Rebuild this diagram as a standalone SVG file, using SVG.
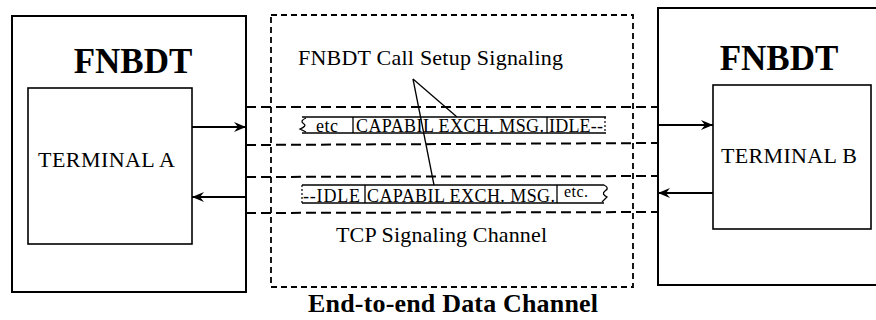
<svg xmlns="http://www.w3.org/2000/svg" width="876" height="320" viewBox="0 0 876 320">
<style>
.box{fill:none;stroke:#000;stroke-width:2}
.inner{fill:none;stroke:#000;stroke-width:1.6}
.dash{fill:none;stroke:#000;stroke-width:2;stroke-dasharray:10 5}
.dbox{fill:none;stroke:#000;stroke-width:1.8;stroke-dasharray:6 4}
.ln{fill:none;stroke:#000;stroke-width:1.3}
.arr{fill:none;stroke:#000;stroke-width:2;marker-end:url(#ah)}
.title{font-family:"Liberation Serif",serif;font-weight:bold;font-size:35px;fill:#000}
.lbl{font-family:"Liberation Serif",serif;font-size:22px;fill:#000}
.pk{font-family:"Liberation Serif",serif;font-size:18px;fill:#000}
.dot{fill:none;stroke:#000;stroke-width:1.2;stroke-dasharray:2 2}
</style>
<defs>
<marker id="ah" viewBox="0 0 12 10" refX="12" refY="5" markerWidth="12" markerHeight="10" markerUnits="userSpaceOnUse" orient="auto">
<path d="M0,0 L12,5 L0,10 L4,5 z" fill="#000"/>
</marker>
</defs>
<g id="channel">
<rect class="dbox" x="271" y="15" width="362" height="272"/>
<text class="lbl" x="298" y="65" textLength="265">FNBDT Call Setup Signaling</text>
<text class="lbl" x="336" y="242" textLength="211">TCP Signaling Channel</text>
<text class="title" x="453" y="312" text-anchor="middle" font-size="26" style="font-size:26px" textLength="290">End-to-end Data Channel</text>
</g>
<g id="fnbdt-a">
<rect class="box" x="12" y="16" width="234" height="276"/>
<text class="title" x="133" y="73" text-anchor="middle">FNBDT</text>
</g>
<g id="terminal-a">
<rect class="inner" x="28" y="88" width="164" height="156"/>
<text class="lbl" x="38" y="167" textLength="137">TERMINAL A</text>
</g>
<g id="fnbdt-b">
<path class="box" d="M880,8 L658,8 L658,285 L880,285"/>
<text class="title" x="779" y="70" text-anchor="middle">FNBDT</text>
</g>
<g id="terminal-b">
<rect class="inner" x="713" y="85" width="158" height="144"/>
<text class="lbl" x="721" y="163" textLength="136">TERMINAL B</text>
</g>
<g id="packet-top">
<line class="ln" x1="302" y1="117" x2="606" y2="117"/>
<line class="ln" x1="302" y1="133" x2="606" y2="133"/>
<path class="ln" d="M306,118 Q299,121 304,124 Q307,126 300,129 L306,132"/>
<line class="ln" x1="353" y1="117" x2="353" y2="133"/>
<line class="ln" x1="547" y1="117" x2="547" y2="133"/>
<line class="dot" x1="605" y1="117" x2="605" y2="133"/>
<text class="pk" x="316" y="132" textLength="22">etc</text>
<text class="pk" x="356" y="132" textLength="188">CAPABIL EXCH. MSG.</text>
<text class="pk" x="549" y="132" textLength="54">IDLE--</text>
</g>
<g id="packet-bottom">
<line class="ln" x1="302" y1="185" x2="604" y2="185"/>
<line class="ln" x1="302" y1="203" x2="604" y2="203"/>
<line class="dot" x1="302" y1="185" x2="302" y2="203"/>
<line class="ln" x1="365" y1="185" x2="365" y2="203"/>
<line class="ln" x1="557" y1="185" x2="557" y2="203"/>
<path class="ln" d="M604,185 Q610,188 605,191 Q601,194 607,197 L602,202"/>
<text class="pk" x="303" y="202" textLength="57">--IDLE</text>
<text class="pk" x="367" y="202" textLength="188">CAPABIL EXCH. MSG.</text>
<text class="pk" x="564" y="197" style="font-size:16px" textLength="24">etc.</text>
</g>
<g id="connectors">
<line class="dash" x1="246" y1="107" x2="658" y2="107"/>
<line class="dash" x1="246" y1="145" x2="658" y2="143"/>
<line class="dash" x1="246" y1="177" x2="658" y2="176"/>
<line class="dash" x1="246" y1="213" x2="658" y2="212"/>
<line class="arr" x1="192" y1="127" x2="246" y2="127"/>
<line class="arr" x1="246" y1="197" x2="192" y2="197"/>
<line class="arr" x1="658" y1="125" x2="713" y2="125"/>
<line class="arr" x1="713" y1="193" x2="658" y2="193"/>
<line class="ln" x1="413" y1="79" x2="457" y2="117"/>
<line class="ln" x1="413" y1="79" x2="434" y2="185"/>
</g>
</svg>
